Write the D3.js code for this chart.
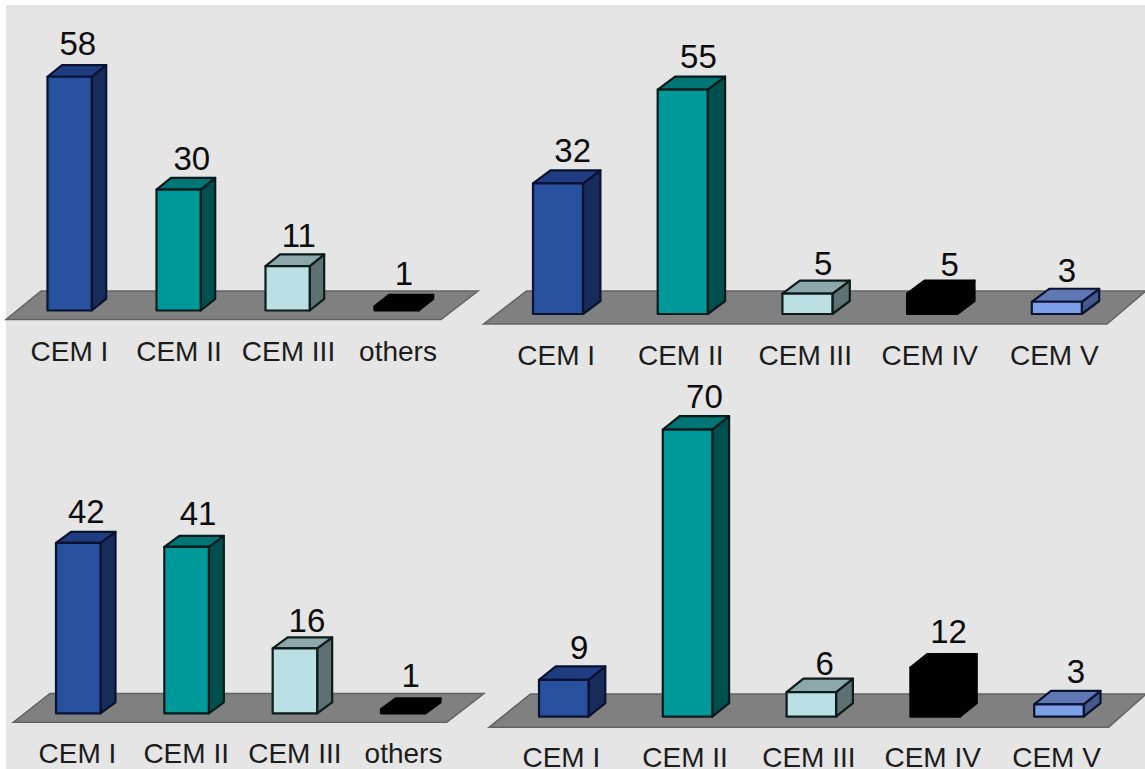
<!DOCTYPE html>
<html>
<head>
<meta charset="utf-8">
<script src="https://cdn.jsdelivr.net/npm/d3@7/dist/d3.min.js"></script>
<style>
  html, body { margin: 0; padding: 0; background: #ffffff; overflow: hidden; }
  svg { display: block; }
  text { font-family: "Liberation Sans", Arial, sans-serif; fill: #0c0c0c; }
</style>
</head>
<body>
<svg id="chart" width="1145" height="769"></svg>
<script>
// Category names for each of the four cement charts
const categoriesTopLeft = ["CEM I", "CEM II", "CEM III", "others"];
const categoriesTopRight = ["CEM I", "CEM II", "CEM III", "CEM IV", "CEM V"];
const categoriesBottomLeft = ["CEM I", "CEM II", "CEM III", "others"];
const categoriesBottomRight = ["CEM I", "CEM II", "CEM III", "CEM IV", "CEM V"];

// Share of each cement type
const valuesTopLeft = [58, 30, 11, 1];
const valuesTopRight = [32, 55, 5, 5, 3];
const valuesBottomLeft = [42, 41, 16, 1];
const valuesBottomRight = [9, 70, 6, 12, 3];

// Face colours of the extruded bars, keyed by cement type
const barColours = {
  "CEM I": { front: "#27509f", top: "#1f3d80", side: "#182c5c", edge: "#0a1230" },
  "CEM II": { front: "#009999", top: "#007575", side: "#004f4f", edge: "#031a1a" },
  "CEM III": { front: "#bbe0e3", top: "#8ca8aa", side: "#5e7072", edge: "#0d1a1a" },
  "CEM IV": { front: "#000000", top: "#000000", side: "#000000", edge: "#000000" },
  "others": { front: "#000000", top: "#000000", side: "#000000", edge: "#000000" },
  "CEM V": { front: "#7d9fe8", top: "#5f78b4", side: "#44588a", edge: "#0a1230" }
};

// Placement of each chart on the sheet
const panels = [
  {
    categories: categoriesTopLeft, values: valuesTopLeft,
    baseY: 310.5, unit: 4.03, firstBar: 47.5, lastBar: 374.5, barWidth: 44.2, depthX: 14.5, depthY: 11.7,
    floor: { frontY: 319.5, backY: 291, frontLeft: 6, frontRight: 441, backLeft: 41, backRight: 478 },
    tickSpan: [69, 397.5], tickBaseline: 360.7,
    nudgeX: [1, 6, 4, 0], labelGap: [10.2, 7.6, 7.6, 9.6]
  },
  {
    categories: categoriesTopRight, values: valuesTopRight,
    baseY: 314, unit: 4.08, firstBar: 533, lastBar: 1031.8, barWidth: 50, depthX: 17.4, depthY: 13,
    floor: { frontY: 324, backY: 291, frontLeft: 483.5, frontRight: 1107, backLeft: 526.5, backRight: 1146 },
    tickSpan: [555.7, 1053.8], tickBaseline: 365,
    nudgeX: [6, 7, 7, 9, 1.5], labelGap: [8.7, 8.6, 5.6, 5, 6.5]
  },
  {
    categories: categoriesBottomLeft, values: valuesBottomLeft,
    baseY: 713.3, unit: 4.06, firstBar: 56, lastBar: 381, barWidth: 44.5, depthX: 15, depthY: 11,
    floor: { frontY: 722.3, backY: 693.5, frontLeft: 13.3, frontRight: 446.7, backLeft: 50, backRight: 484 },
    tickSpan: [77, 403], tickBaseline: 762.7,
    nudgeX: [0.5, 4, 4.5, 0], labelGap: [8.5, 10.8, 5.6, 11.6]
  },
  {
    categories: categoriesBottomRight, values: valuesBottomRight,
    baseY: 716.7, unit: 4.1, firstBar: 539, lastBar: 1034.2, barWidth: 49.5, depthX: 16.8, depthY: 13.5,
    floor: { frontY: 727.3, backY: 694, frontLeft: 489, frontRight: 1108.7, backLeft: 530.5, backRight: 1146 },
    tickSpan: [560.8, 1056], tickBaseline: 766.7,
    nudgeX: [7, 8.5, 5, 5, 8.5], labelGap: [7.3, 7.9, 3.6, 11, 7.9]
  }
];

const svg = d3.select("#chart");
const outline = d3.line();

// Sheet background, leaving a thin white strip on the top and left
svg.append("rect")
  .attr("x", 6).attr("y", 5)
  .attr("width", 1139).attr("height", 764)
  .attr("fill", "#e5e5e5");

panels.forEach(panel => {
  const g = svg.append("g");
  const maxValue = d3.max(panel.values);

  const x = d3.scalePoint()
    .domain(panel.categories)
    .range([panel.firstBar, panel.lastBar]);
  const y = d3.scaleLinear()
    .domain([0, maxValue])
    .range([panel.baseY, panel.baseY - panel.unit * maxValue]);
  const tickScale = d3.scalePoint()
    .domain(panel.categories)
    .range(panel.tickSpan);

  // Floor the bars stand on
  const f = panel.floor;
  g.append("path")
    .attr("d", outline([
      [f.frontLeft, f.frontY], [f.backLeft, f.backY],
      [f.backRight, f.backY], [f.frontRight, f.frontY]
    ]) + "Z")
    .attr("fill", "#808080")
    .attr("stroke", "#636363")
    .attr("stroke-width", 1.5);

  // Each bar is three polygons: front, top and right side
  const bars = g.selectAll("g.bar")
    .data(panel.categories.map((c, i) => ({ category: c, value: panel.values[i], index: i })))
    .join("g")
    .attr("class", "bar");

  const faces = [
    { key: "side", points: (l, r, t, b, dx, dy) => [[r, b], [r + dx, b - dy], [r + dx, t - dy], [r, t]] },
    { key: "top", points: (l, r, t, b, dx, dy) => [[l, t], [l + dx, t - dy], [r + dx, t - dy], [r, t]] },
    { key: "front", points: (l, r, t, b) => [[l, b], [l, t], [r, t], [r, b]] }
  ];

  faces.forEach(face => {
    bars.append("path")
      .attr("d", d => {
        const l = x(d.category);
        return outline(face.points(l, l + panel.barWidth, y(d.value), y(0), panel.depthX, panel.depthY)) + "Z";
      })
      .attr("fill", d => barColours[d.category][face.key])
      .attr("stroke", d => barColours[d.category].edge)
      .attr("stroke-width", 2.2)
      .attr("stroke-linejoin", "round");
  });

  // Value above each bar
  bars.append("text")
    .attr("x", d => x(d.category) + panel.barWidth / 2 + panel.depthX / 2 + panel.nudgeX[d.index])
    .attr("y", d => y(d.value) - panel.depthY - panel.labelGap[d.index])
    .attr("text-anchor", "middle")
    .attr("font-size", 33)
    .text(d => d.value);

  // Category names along the front of the floor
  const axis = d3.axisBottom(tickScale).tickSize(0).tickPadding(0);
  const axisG = g.append("g")
    .attr("transform", `translate(0,${panel.tickBaseline})`)
    .call(axis);
  axisG.select(".domain").remove();
  axisG.selectAll("text")
    .attr("y", 0)
    .attr("dy", 0)
    .attr("font-size", 28)
    .attr("font-family", "\"Liberation Sans\", Arial, sans-serif")
    .style("fill", "#1c1c1c");
});
</script>
</body>
</html>
